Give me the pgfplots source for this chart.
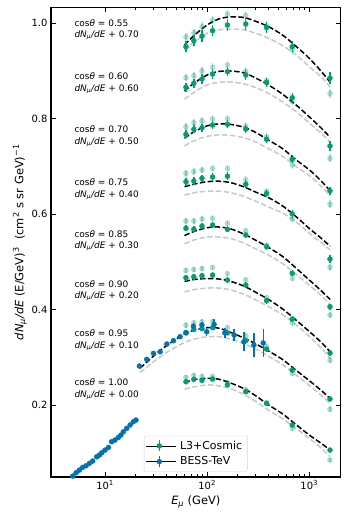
\documentclass[border=0pt]{standalone}
\usepackage{fontspec}
\setmainfont{DejaVu Sans}
\usepackage{pgfplots}
\pgfplotsset{compat=1.18}

\definecolor{l3}{HTML}{029E73}
\definecolor{bess}{HTML}{0173B2}
\definecolor{mgray}{HTML}{C8C8C8}

\newcommand{\dnde}{\textit{dN}\textsubscript{\textit{μ}}\textit{/dE}}
\newcommand{\lab}[2]{cos\textit{θ} = #1\\\dnde{} + #2}

\pgfplotsset{
  dark/.style={forget plot, only marks, mark=*, mark size=2.5bp, color=l3,
    error bars/y dir=both, error bars/y explicit, error bars/error mark=none,
    error bars/error bar style={line width=1.4bp}},
  light/.style={dark, opacity=0.3},
  bessst/.style={dark, color=bess},
  model/.style={forget plot, black, line width=1.5bp, dash pattern=on 5.5bp off 2.4bp, smooth},
  modelg/.style={model, color=mgray},
}

\begin{document}
\begin{tikzpicture}
\useasboundingbox (-51bp,-46bp) rectangle (298bp,477bp);
\begin{axis}[
    scale only axis, width=289.7bp, height=469.7bp,
    xmode=log, xmin=2.955, xmax=2032, ymin=0.049, ymax=1.0335,
    axis line style={line width=1.1bp},
    tick align=inside, tick pos=both,
    major tick length=5bp, minor tick length=2.8bp,
    every tick/.style={black, line width=0.8bp},
    xtick={10,100,1000},
    xticklabels={10\textsuperscript{1},10\textsuperscript{2},10\textsuperscript{3}},
    ytick={0.2,0.4,0.6,0.8,1.0},
    /pgf/number format/assume math mode=true,
    yticklabel style={/pgf/number format/.cd, fixed, fixed zerofill, precision=1},
    tick label style={font=\fontsize{10}{12}\selectfont},
    xlabel={\textit{E}\textsubscript{\textit{μ}} (GeV)},
    ylabel={\dnde{} (E/GeV)\textsuperscript{3}\ \ (cm\textsuperscript{2} s sr GeV)\textsuperscript{−1}},
    label style={font=\fontsize{11.5}{13}\selectfont},
    ylabel style={yshift=-2bp},
    legend style={at={(0.5,0.0113)}, anchor=south, font=\fontsize{11}{13}\selectfont,
      draw=gray!35, rounded corners=2bp, inner sep=2bp,
      nodes={inner ysep=3bp, inner xsep=3.5bp}},
    legend cell align=left,
]
% gray model curves
\addplot[modelg] coordinates {(60,0.944)(75,0.961)(100,0.979)(130,0.986)(170,0.988)(230,0.986)(300,0.979)(400,0.9686)(550,0.953)(750,0.933)(1000,0.909)(1300,0.888)(1600,0.867)};
\addplot[modelg] coordinates {(60,0.841)(75,0.856)(100,0.871)(130,0.876)(170,0.877)(230,0.873)(300,0.865)(400,0.853)(550,0.835)(750,0.814)(1000,0.791)(1300,0.770)(1600,0.751)};
\addplot[modelg] coordinates {(60,0.743)(75,0.754)(100,0.763)(130,0.766)(170,0.765)(230,0.760)(300,0.751)(400,0.737)(550,0.721)(750,0.699)(1000,0.681)(1300,0.659)(1600,0.639)};
\addplot[modelg] coordinates {(60,0.640)(75,0.645)(100,0.648)(130,0.648)(170,0.645)(230,0.637)(300,0.627)(400,0.615)(550,0.602)(750,0.583)(1000,0.560)(1300,0.541)(1600,0.525)};
\addplot[modelg] coordinates {(60,0.538)(75,0.546)(100,0.552)(130,0.552)(170,0.549)(230,0.539)(300,0.527)(400,0.514)(550,0.496)(750,0.473)(1000,0.451)(1300,0.430)(1600,0.411)};
\addplot[modelg] coordinates {(60,0.437)(75,0.442)(100,0.445)(130,0.445)(170,0.441)(230,0.432)(300,0.420)(400,0.406)(550,0.389)(750,0.367)(1000,0.344)(1300,0.320)(1600,0.298)};
\addplot[modelg] coordinates {(22,0.268)(26,0.280)(30,0.291)(35,0.301)(40,0.310)(48,0.320)(60,0.331)(75,0.338)(100,0.343)(130,0.343)(170,0.338)(230,0.328)(300,0.317)(400,0.302)(550,0.284)(750,0.262)(1000,0.241)(1300,0.221)(1600,0.203)};
\addplot[modelg] coordinates {(60,0.233)(75,0.238)(100,0.242)(130,0.240)(170,0.234)(230,0.222)(300,0.207)(400,0.189)(550,0.171)(750,0.150)(1000,0.130)(1300,0.110)(1600,0.0914)};
% black model curves
\addplot[model] coordinates {(60,0.9545)(75,0.975)(100,0.9964)(130,1.009)(170,1.0135)(230,1.012)(300,1.004)(400,0.9929)(550,0.975)(750,0.951)(1000,0.9266)(1300,0.900)(1600,0.8763)};
\addplot[model] coordinates {(60,0.858)(75,0.875)(100,0.8916)(130,0.899)(170,0.900)(230,0.896)(300,0.885)(400,0.8706)(550,0.851)(750,0.828)(1000,0.804)(1300,0.781)(1600,0.761)};
\addplot[model] coordinates {(60,0.759)(75,0.773)(100,0.785)(130,0.789)(170,0.788)(230,0.782)(300,0.771)(400,0.755)(550,0.737)(750,0.713)(1000,0.693)(1300,0.670)(1600,0.649)};
\addplot[model] coordinates {(60,0.6575)(75,0.663)(100,0.668)(130,0.669)(170,0.666)(230,0.657)(300,0.646)(400,0.6344)(550,0.617)(750,0.594)(1000,0.570)(1300,0.550)(1600,0.533)};
\addplot[model] coordinates {(60,0.555)(75,0.564)(100,0.5715)(130,0.573)(170,0.569)(230,0.558)(300,0.545)(400,0.530)(550,0.511)(750,0.486)(1000,0.462)(1300,0.440)(1600,0.421)};
\addplot[model] coordinates {(60,0.459)(75,0.463)(100,0.465)(130,0.464)(170,0.459)(230,0.449)(300,0.436)(400,0.421)(550,0.401)(750,0.377)(1000,0.354)(1300,0.332)(1600,0.3115)};
\addplot[model] coordinates {(22,0.277)(26,0.291)(30,0.303)(35,0.315)(40,0.324)(48,0.336)(60,0.349)(75,0.357)(100,0.362)(130,0.361)(170,0.352)(230,0.340)(300,0.328)(400,0.313)(550,0.295)(750,0.272)(1000,0.251)(1300,0.231)(1600,0.2135)};
\addplot[model] coordinates {(60,0.247)(75,0.253)(100,0.256)(130,0.254)(170,0.246)(230,0.234)(300,0.219)(400,0.200)(550,0.181)(750,0.158)(1000,0.137)(1300,0.120)(1600,0.1055)};
% L3+Cosmic, faint series
\addplot[light] coordinates {
 (62,0.971)+-(0,0.009) (74,0.980)+-(0,0.009) (89,0.993)+-(0,0.009) (113,1.007)+-(0,0.009) (158,1.0195)+-(0,0.009) (239,1.017)+-(0,0.009) (382,0.995)+-(0,0.009) (681,0.945)+-(0,0.009) (1596,0.853)+-(0,0.009)
 (62,0.886)+-(0,0.008) (74,0.890)+-(0,0.008) (89,0.9006)+-(0,0.008) (113,0.9078)+-(0,0.008) (158,0.9126)+-(0,0.008) (239,0.900)+-(0,0.008) (382,0.880)+-(0,0.008) (681,0.836)+-(0,0.008) (1596,0.717)+-(0,0.008)
 (62,0.7832)+-(0,0.008) (74,0.7916)+-(0,0.008) (89,0.7952)+-(0,0.008) (113,0.7994)+-(0,0.008) (158,0.7994)+-(0,0.008) (239,0.785)+-(0,0.008) (382,0.762)+-(0,0.008) (681,0.703)+-(0,0.008) (1596,0.6206)+-(0,0.008)
 (62,0.6855)+-(0,0.007) (74,0.689)+-(0,0.007) (89,0.6925)+-(0,0.007) (113,0.696)+-(0,0.007) (158,0.696)+-(0,0.007) (239,0.672)+-(0,0.007) (382,0.648)+-(0,0.007) (681,0.5897)+-(0,0.007) (1596,0.4885)+-(0,0.007)
 (62,0.5855)+-(0,0.006) (74,0.5855)+-(0,0.006) (89,0.5897)+-(0,0.006) (113,0.5912)+-(0,0.006) (158,0.5807)+-(0,0.006) (239,0.565)+-(0,0.006) (382,0.535)+-(0,0.006) (681,0.4654)+-(0,0.006) (1596,0.3885)+-(0,0.006)
 (62,0.482)+-(0,0.006) (74,0.484)+-(0,0.006) (89,0.486)+-(0,0.006) (113,0.488)+-(0,0.006) (158,0.475)+-(0,0.006) (239,0.462)+-(0,0.006) (382,0.425)+-(0,0.006) (681,0.372)+-(0,0.006) (1596,0.294)+-(0,0.006)
 (62,0.367)+-(0,0.006) (74,0.372)+-(0,0.006) (89,0.374)+-(0,0.006) (113,0.375)+-(0,0.006) (158,0.362)+-(0,0.006) (239,0.345)+-(0,0.006) (382,0.322)+-(0,0.006) (681,0.266)+-(0,0.006) (1596,0.191)+-(0,0.006)
 (62,0.258)+-(0,0.005) (74,0.262)+-(0,0.005) (89,0.260)+-(0,0.005) (113,0.260)+-(0,0.005) (158,0.247)+-(0,0.005) (239,0.232)+-(0,0.005) (382,0.205)+-(0,0.005) (681,0.151)+-(0,0.005) (1596,0.0845)+-(0,0.005)
};
% L3+Cosmic
\addplot[dark] coordinates {
 (62,0.951)+-(0,0.012) (74,0.9635)+-(0,0.012) (89,0.973)+-(0,0.012) (113,0.9845)+-(0,0.012) (158,0.9964)+-(0,0.012) (239,0.9985)+-(0,0.012) (382,0.991)+-(0,0.012) (681,0.951)+-(0,0.012) (1596,0.885)+-(0,0.012)
 (62,0.8658)+-(0,0.010) (74,0.8742)+-(0,0.010) (89,0.8832)+-(0,0.010) (113,0.8937)+-(0,0.010) (158,0.8985)+-(0,0.010) (239,0.8916)+-(0,0.010) (382,0.8763)+-(0,0.010) (681,0.844)+-(0,0.010) (1596,0.7428)+-(0,0.010)
 (62,0.7673)+-(0,0.008) (74,0.7778)+-(0,0.008) (89,0.7811)+-(0,0.008) (113,0.7868)+-(0,0.008) (158,0.7883)+-(0,0.008) (239,0.7784)+-(0,0.008) (382,0.7568)+-(0,0.008) (681,0.7149)+-(0,0.008) (1596,0.649)+-(0,0.008)
 (62,0.6679)+-(0,0.008) (74,0.6694)+-(0,0.008) (89,0.675)+-(0,0.008) (113,0.6778)+-(0,0.008) (158,0.6795)+-(0,0.008) (239,0.6627)+-(0,0.008) (382,0.643)+-(0,0.008) (681,0.6002)+-(0,0.008) (1596,0.5059)+-(0,0.008)
 (62,0.5702)+-(0,0.006) (74,0.5681)+-(0,0.006) (89,0.575)+-(0,0.006) (113,0.5771)+-(0,0.006) (158,0.5681)+-(0,0.006) (239,0.5562)+-(0,0.006) (382,0.5317)+-(0,0.006) (681,0.4759)+-(0,0.006) (1596,0.4059)+-(0,0.006)
 (62,0.4667)+-(0,0.006) (74,0.4688)+-(0,0.006) (89,0.4709)+-(0,0.006) (113,0.4723)+-(0,0.006) (158,0.4618)+-(0,0.006) (239,0.4513)+-(0,0.006) (382,0.4185)+-(0,0.006) (681,0.3800)+-(0,0.006) (1596,0.309)+-(0,0.006)
 (62,0.352)+-(0,0.005) (74,0.358)+-(0,0.005) (89,0.360)+-(0,0.005) (113,0.362)+-(0,0.005) (158,0.351)+-(0,0.005) (239,0.335)+-(0,0.005) (382,0.317)+-(0,0.005) (681,0.273)+-(0,0.005) (1596,0.2125)+-(0,0.005)
 (62,0.2486)+-(0,0.005) (74,0.2537)+-(0,0.005) (89,0.2516)+-(0,0.005) (113,0.2543)+-(0,0.005) (158,0.2423)+-(0,0.005) (239,0.2277)+-(0,0.005) (382,0.2033)+-(0,0.005) (681,0.1579)+-(0,0.005) (1596,0.1055)+-(0,0.005)
};
% BESS-TeV
\addplot[bessst] coordinates {
 (4.82,0.0509)+-(0,0.001) (5.20,0.0579)+-(0,0.001) (5.60,0.0635)+-(0,0.001) (6.04,0.0692)+-(0,0.001) (6.51,0.0725)+-(0,0.001) (7.02,0.0776)+-(0,0.001) (7.57,0.0824)+-(0,0.001) (8.29,0.0914)+-(0,0.001) (8.80,0.0950)+-(0,0.001) (9.28,0.0998)+-(0,0.001) (10.0,0.1055)+-(0,0.001) (10.8,0.1110)+-(0,0.001) (11.6,0.1229)+-(0,0.001) (12.5,0.1264)+-(0,0.001) (13.5,0.1320)+-(0,0.001) (14.3,0.1369)+-(0,0.001) (15.1,0.1438)+-(0,0.001) (16.3,0.1509)+-(0,0.001) (17.6,0.1580)+-(0,0.001) (18.9,0.1648)+-(0,0.001) (20.1,0.1684)+-(0,0.001)
};
\addplot[bessst] coordinates {
 (21.7,0.2816)+-(0,0.003) (25.6,0.2956)+-(0,0.003) (29.8,0.3082)+-(0,0.003) (34.6,0.3115)+-(0,0.003) (40.3,0.3277)+-(0,0.003) (46.8,0.3346)+-(0,0.004) (54.3,0.3430)+-(0,0.004) (62.2,0.3510)+-(0,0.005) (73.4,0.3650)+-(0,0.006) (88.8,0.3675)+-(0,0.007) (99,0.3535)+-(0,0.008) (117,0.369)+-(0,0.012) (149,0.351)+-(0,0.010) (184,0.3465)+-(0,0.012) (229,0.3325)+-(0,0.020) (287,0.3256)+-(0,0.025) (354,0.330)+-(0,0.030)
};
\addlegendimage{legend image code/.code={
  \path (0bp,0bp) -- (30bp,0bp);
  \draw[l3, line width=1.4bp] (13bp,-5.5bp) -- (13bp,5.5bp);
  \fill[l3] (13bp,0bp) circle[radius=2.5bp];}}
\addlegendentry{L3+Cosmic}
\addlegendimage{legend image code/.code={
  \path (0bp,0bp) -- (30bp,0bp);
  \draw[bess, line width=1.4bp] (13bp,-5.5bp) -- (13bp,5.5bp);
  \fill[bess] (13bp,0bp) circle[radius=2.5bp];}}
\addlegendentry{BESS-TeV}
% group labels
\begin{scope}[every node/.style={anchor=west, align=left, inner sep=0pt, font=\fontsize{9}{11.5}\selectfont}]
\node at (axis cs:5,0.987) {\lab{0.55}{0.70}};
\node at (axis cs:5,0.8747) {\lab{0.60}{0.60}};
\node at (axis cs:5,0.7636) {\lab{0.70}{0.50}};
\node at (axis cs:5,0.6525) {\lab{0.75}{0.40}};
\node at (axis cs:5,0.5445) {\lab{0.85}{0.30}};
\node at (axis cs:5,0.4397) {\lab{0.90}{0.20}};
\node at (axis cs:5,0.3358) {\lab{0.95}{0.10}};
\node at (axis cs:5,0.2331) {\lab{1.00}{0.00}};
\end{scope}
\end{axis}
\end{tikzpicture}
\end{document}
